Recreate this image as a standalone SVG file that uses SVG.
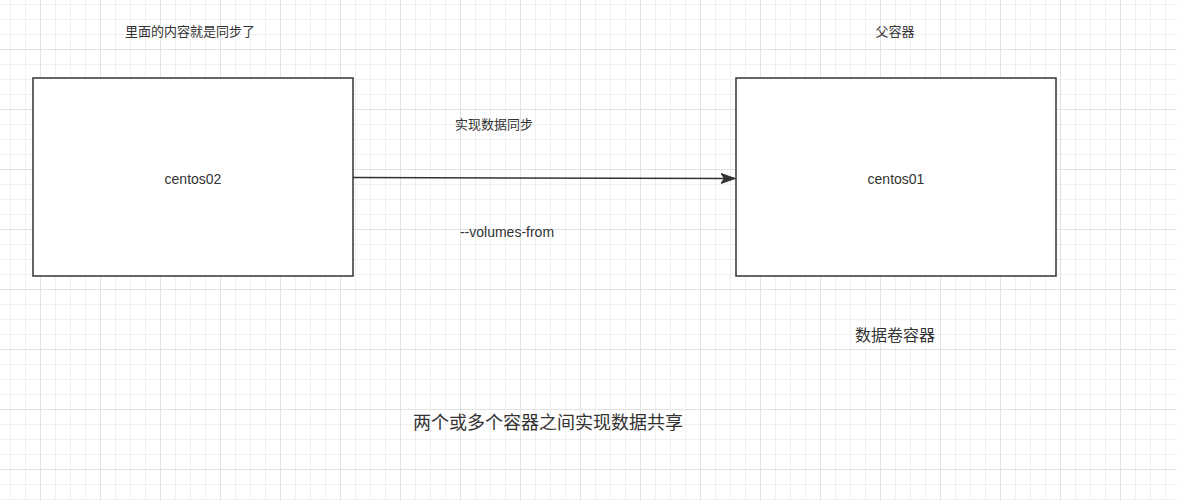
<svg xmlns="http://www.w3.org/2000/svg" width="1177" height="500" viewBox="0 0 1177 500">
  <style>
    .box { fill: #ffffff; stroke: #333333; stroke-width: 1.5; }
    .lat { font-family: "Liberation Sans", Arial, sans-serif; font-size: 14px; fill: #333333; text-anchor: middle; }
    .cjk { font-family: "Liberation Sans", "Noto Sans CJK SC", sans-serif; fill: #333333; text-anchor: middle; }
    .edge { stroke: #333333; stroke-width: 1.5; fill: none; }
  </style>
  <defs>
    <pattern id="gMinor" patternUnits="userSpaceOnUse" x="10" y="4" width="15" height="15">
      <path d="M0.5 0V15M0 0.5H15" stroke="#f0f0f0" stroke-width="1" fill="none"/>
    </pattern>
    <pattern id="gMajor" patternUnits="userSpaceOnUse" x="40" y="49" width="60" height="60">
      <path d="M0.5 0V60M0 0.5H60" stroke="#e2e2e2" stroke-width="1" fill="none"/>
    </pattern>
    <marker id="arrow" markerUnits="userSpaceOnUse" markerWidth="16" markerHeight="12" refX="14" refY="5" orient="auto">
      <path d="M0 0L14 5L0 10L3.5 5Z" fill="#333333" stroke="#333333" stroke-width="1"/>
    </marker>
  </defs>
  <rect width="1177" height="500" fill="#ffffff"/>
  <rect width="1177" height="500" fill="url(#gMinor)"/>
  <rect width="1177" height="500" fill="url(#gMajor)"/>

  <g id="connectors">
    <path class="edge" d="M353 177.5L735 178.5" marker-end="url(#arrow)"/>
  </g>

  <g id="node-centos02">
    <rect class="box" x="33" y="78" width="320" height="198"/>
    <text class="lat" x="193" y="184">centos02</text>
  </g>
  <g id="node-centos01">
    <rect class="box" x="736" y="78" width="320" height="198"/>
    <text class="lat" x="896" y="184">centos01</text>
  </g>

  <g id="labels">
    <text class="cjk" x="190" y="36" font-size="13">里面的内容就是同步了</text>
    <text class="cjk" x="895" y="36" font-size="13">父容器</text>
    <text class="cjk" x="494" y="129" font-size="13">实现数据同步</text>
    <text class="lat" x="507" y="237">--volumes-from</text>
    <text class="cjk" x="895" y="341" font-size="16">数据卷容器</text>
    <text class="cjk" x="548" y="429" font-size="18">两个或多个容器之间实现数据共享</text>
  </g>
</svg>
